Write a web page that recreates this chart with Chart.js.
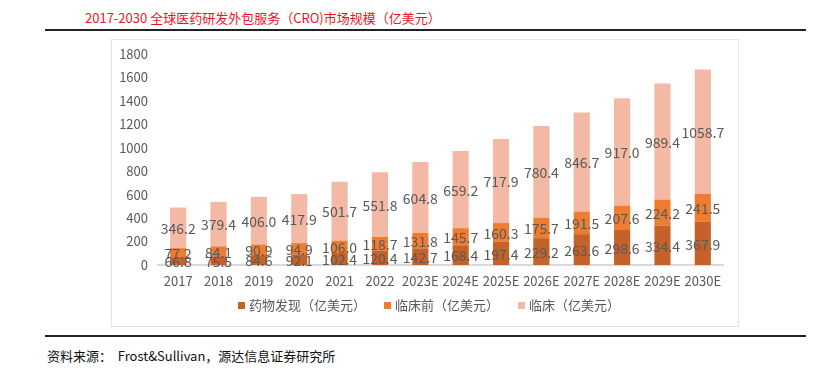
<!DOCTYPE html>
<html>
<head>
<meta charset="utf-8">
<script src="https://cdn.jsdelivr.net/npm/chart.js@4"></script>
<style>
  body { margin: 0; background: #fff; font-family: "Noto Sans CJK SC", sans-serif; }
  #page { position: relative; width: 833px; height: 372px; overflow: hidden; }
  #title { position: absolute; left: 85px; top: 8px; font-size: 13px; color: #f0141e; white-space: nowrap; }
  .rule { position: absolute; left: 45px; width: 761px; height: 2px; background: #222; }
  #frame { position: absolute; left: 111px; top: 39px; width: 626px; height: 286px; border: 1px solid #e3e3e3; }
  #source { position: absolute; left: 47px; top: 346px; font-size: 13px; color: #111; white-space: nowrap; }
  #wrap { position: absolute; left: 112px; top: 40px; width: 626px; height: 286px; }
  .key { position: absolute; top: 296px; font-size: 13px; line-height: 18px; color: #595959; white-space: nowrap; }
  .key i { display: inline-block; width: 7px; height: 7px; margin-right: 4px; vertical-align: 1px; }
</style>
</head>
<body>
<div id="page">
  <div id="title">2017-2030 全球医药研发外包服务（CRO)市场规模（亿美元）</div>
  <div class="rule" style="top:29px"></div>
  <div id="frame"></div>
  <div id="wrap"><canvas id="chart"></canvas></div>
  <div id="legend"></div>
  <div class="rule" style="top:335px"></div>
  <div id="source">资料来源：&nbsp;&nbsp;Frost&amp;Sullivan，源达信息证券研究所</div>
</div>
<script>
const years = ['2017', '2018', '2019', '2020', '2021', '2022', '2023E', '2024E', '2025E', '2026E', '2027E', '2028E', '2029E', '2030E'];
const drugDiscovery = [66.8, 75.5, 84.6, 92.1, 102.4, 120.4, 142.7, 168.4, 197.4, 229.2, 263.6, 298.6, 334.4, 367.9];
const preclinical = [77.2, 84.1, 90.9, 94.9, 106.0, 118.7, 131.8, 145.7, 160.3, 175.7, 191.5, 207.6, 224.2, 241.5];
const clinical = [346.2, 379.4, 406.0, 417.9, 501.7, 551.8, 604.8, 659.2, 717.9, 780.4, 846.7, 917.0, 989.4, 1058.7];
const seriesNames = ['药物发现（亿美元）', '临床前（亿美元）', '临床（亿美元）'];
const seriesColors = ['#c5622a', '#ee7d32', '#f4b9a4'];

const font = '"Noto Sans CJK SC", sans-serif';

// draws the value in the middle of each stacked segment
const barLabels = {
    id: 'barLabels',
    afterDatasetsDraw(chart) {
        const ctx = chart.ctx;
        ctx.save();
        ctx.font = '14px ' + font;
        ctx.fillStyle = '#595959';
        ctx.textAlign = 'center';
        ctx.textBaseline = 'middle';
        chart.data.datasets.forEach((ds, i) => {
            chart.getDatasetMeta(i).data.forEach((bar, j) => {
                const mid = (bar.y + bar.base) / 2;
                ctx.fillText(ds.data[j].toFixed(1), bar.x, mid + 1);
            });
        });
        ctx.restore();
    }
};

const chart = new Chart(document.getElementById('chart'), {
    type: 'bar',
    data: {
        labels: years,
        datasets: seriesNames.map((name, i) => ({
            label: name,
            data: [drugDiscovery, preclinical, clinical][i],
            backgroundColor: seriesColors[i]
        }))
    },
    options: {
        responsive: true,
        maintainAspectRatio: false,
        animation: false,
        layout: { padding: { left: 0, right: 15, top: 14, bottom: 39 } },
        datasets: { bar: { barPercentage: 0.4, categoryPercentage: 1.0 } },
        plugins: {
            tooltip: { enabled: false },
            legend: { display: false }
        },
        scales: {
            x: {
                stacked: true,
                grid: { display: false },
                border: { color: '#d9d9d9', width: 2 },
                ticks: { color: '#595959', font: { family: font, size: 13 }, padding: 0, maxRotation: 0 },
                afterFit(scale) { scale.height = 22; }
            },
            y: {
                stacked: true,
                min: 0,
                max: 1800,
                grid: { display: false },
                border: { display: false },
                ticks: {
                    stepSize: 200,
                    color: '#595959',
                    font: { family: font, size: 13 },
                    padding: 2,
                    callback: v => String(v)
                },
                afterFit(scale) { scale.width = 46; }
            }
        }
    },
    plugins: [barLabels]
});

// legend laid out under the chart like the original
const keyLeft = [238, 384, 518];
const legend = document.getElementById('legend');
chart.data.datasets.forEach((ds, i) => {
    const el = document.createElement('div');
    el.className = 'key';
    el.style.left = keyLeft[i] + 'px';
    el.innerHTML = '<i style="background:' + ds.backgroundColor + '"></i>' + ds.label;
    legend.appendChild(el);
});
</script>
</body>
</html>
